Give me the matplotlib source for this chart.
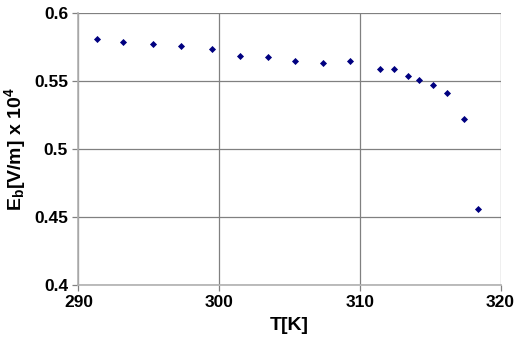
import matplotlib.pyplot as plt
import numpy as np

temperature = [291.3, 293.2, 295.3, 297.3, 299.5, 301.5, 303.5, 305.4, 307.4,
               309.3, 311.4, 312.4, 313.4, 314.2, 315.2, 316.2, 317.4, 318.4]
e_break = [0.581, 0.579, 0.577, 0.5757, 0.5737, 0.5688, 0.568, 0.5651, 0.5632,
           0.5649, 0.5592, 0.5592, 0.5536, 0.5509, 0.547, 0.5413, 0.5222, 0.4557]

plt.rcParams["font.family"] = ["Liberation Sans", "DejaVu Sans"]
plt.rcParams["font.weight"] = "bold"
plt.rcParams["mathtext.fontset"] = "custom"
plt.rcParams["mathtext.rm"] = "Liberation Sans:bold"
plt.rcParams["mathtext.default"] = "rm"

fig = plt.figure(figsize=(5.16, 3.38), dpi=100)
ax = fig.add_axes([0.152, 0.157, 0.818, 0.804])
ax.scatter(temperature, e_break, marker="D", s=13, color="#000080",
           linewidths=0, zorder=3)

ax.set_xlim(290, 320)
ax.set_ylim(0.4, 0.6)
ax.set_xticks([290, 300, 310, 320])
ax.set_yticks([0.4, 0.45, 0.5, 0.55, 0.6])
ax.set_yticklabels(["0.4", "0.45", "0.5", "0.55", "0.6"])
ax.grid(True, color="#808080", linewidth=0.9)
for side in ["top", "right"]:
    ax.spines[side].set_visible(False)
for side in ["left", "bottom"]:
    ax.spines[side].set_color("#b0b0b0")
    ax.spines[side].set_linewidth(1.2)
ax.tick_params(axis="both", labelsize=12.5, length=4, color="#808080", width=0.9)

ax.set_xlabel("T[K]", fontsize=14, fontweight="bold", labelpad=5)
ax.set_ylabel(r"E$_{b}$[V/m] x 10$^{4}$", fontsize=14, fontweight="bold", labelpad=4)

fig.savefig("out.png", dpi=100)
